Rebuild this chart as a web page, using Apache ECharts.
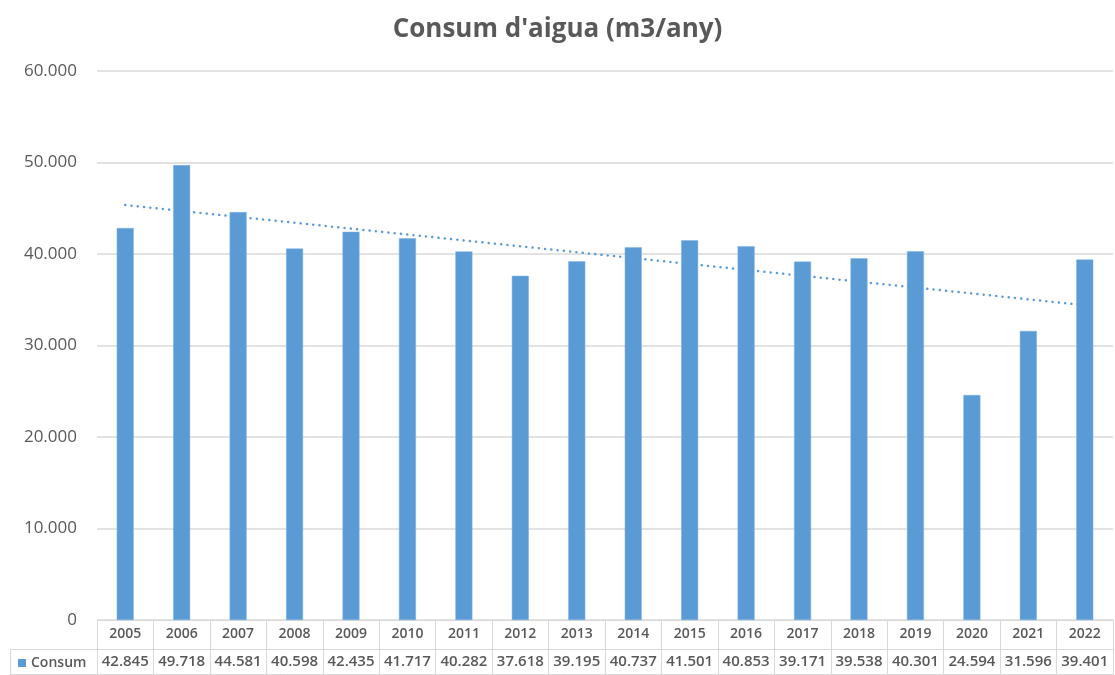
<!DOCTYPE html>
<html>
<head>
<meta charset="utf-8">
<script src="https://cdn.jsdelivr.net/npm/echarts@6/dist/echarts.min.js"></script>
<style>html,body{margin:0;padding:0;background:#fff}#c{width:1115px;height:675px}</style>
</head>
<body>
<div id="c"></div>
<script>
const years = ['2005','2006','2007','2008','2009','2010','2011','2012','2013','2014','2015','2016','2017','2018','2019','2020','2021','2022'];
const consum = [42845,49718,44581,40598,42435,41717,40282,37618,39195,40737,41501,40853,39171,39538,40301,24594,31596,39401];
// trendline endpoints (2005 and 2022)
const trend = [45350,null,null,null,null,null,null,null,null,null,null,null,null,null,null,null,null,34400];
const yTicks = [0,10000,20000,30000,40000,50000,60000];

function fmt(v){ return v === 0 ? '0' : v.toLocaleString('de-DE'); }

const chart = echarts.init(document.getElementById('c'), null, {renderer:'canvas'});
const txt = '#595959', line = '#d9d9d9', blue = '#5b9bd5';
const font = 'Open Sans';
chart.setOption({
  animation:false,
  title:{text:"Consum d'aigua (m3/any)", left:'center', top:12,
    textStyle:{fontFamily:font, fontSize:26, fontWeight:'bold', color:txt}},
  legend:{data:['Consum'], left:13, top:651, icon:'rect', itemWidth:8, itemHeight:8, itemGap:4,
    itemStyle:{borderWidth:0},
    textStyle:{fontFamily:font, fontSize:14, fontWeight:600, color:txt}},
  grid:{left:97, right:2, top:71, bottom:55, containLabel:false},
  xAxis:{type:'category', data:years, boundaryGap:true,
    axisLine:{lineStyle:{color:line}},
    axisTick:{show:true, interval:0, length:55, lineStyle:{color:line}},
    axisLabel:{interval:0, margin:0,
      formatter:(v,i)=>'{y|'+v+'}\n{v|'+fmt(consum[i])+'}',
      rich:{y:{fontFamily:font, fontSize:14, color:txt, lineHeight:29, fontWeight:600},
            v:{fontFamily:font, fontSize:15, color:txt, lineHeight:26, fontWeight:600}}}},
  yAxis:{type:'value', min:yTicks[0], max:yTicks[yTicks.length-1], interval:10000,
    axisLine:{show:false}, axisTick:{show:false},
    splitLine:{lineStyle:{color:line, width:1.5}},
    axisLabel:{formatter:fmt, margin:20, fontFamily:font, fontSize:17, color:txt}},
  graphic:[
    {type:'line', shape:{x1:10,y1:649.5,x2:1113,y2:649.5}, style:{stroke:line, lineWidth:1}},
    {type:'line', shape:{x1:10,y1:674.5,x2:1113,y2:674.5}, style:{stroke:line, lineWidth:1}},
    {type:'line', shape:{x1:10.5,y1:649.5,x2:10.5,y2:675}, style:{stroke:line, lineWidth:1}}
  ],
  series:[
    {name:'Consum', type:'bar', data:consum, barWidth:17,
      itemStyle:{color:blue, borderColor:'#7fb3e3', borderWidth:0.5}},
    {name:'Tendència', type:'line', data:trend, connectNulls:true, symbol:'none', silent:true,
      lineStyle:{color:blue, width:2.5, type:[0.1,6.2], cap:'round'}, z:3}
  ]
});
</script>
</body>
</html>
